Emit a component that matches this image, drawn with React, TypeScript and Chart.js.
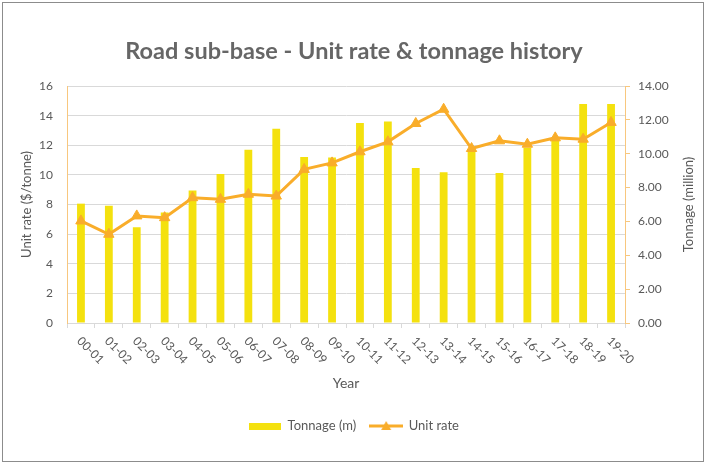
import { useEffect, useRef } from "react";
import { Chart, registerables } from "chart.js";

Chart.register(...registerables);

const years = [
  "00-01", "01-02", "02-03", "03-04", "04-05", "05-06", "06-07", "07-08", "08-09", "09-10",
  "10-11", "11-12", "12-13", "13-14", "14-15", "15-16", "16-17", "17-18", "18-19", "19-20",
];
const tonnage = [
  7.05, 6.93, 5.65, 6.53, 7.83, 8.8, 10.24, 11.48, 9.81, 9.78,
  11.81, 11.91, 9.16, 8.9, 10.24, 8.86, 10.35, 10.85, 12.94, 12.94,
];
const unitRate = [
  6.89, 5.99, 7.23, 7.11, 8.46, 8.35, 8.69, 8.57, 10.37, 10.81,
  11.56, 12.23, 13.47, 14.43, 11.78, 12.3, 12.07, 12.5, 12.41, 13.54,
];

const FONT = "Lato, 'Open Sans', sans-serif";
const TEXT = "#595959";
const YELLOW = "#F4E10E";
const ORANGE = "#F9AD2A";
const AXIS_ORANGE = "#F8C77E";
const GRID = "#D9D9D9";

function makeSwatch(kind: "bar" | "line") {
  const c = document.createElement("canvas");
  if (kind === "bar") {
    c.width = 32;
    c.height = 7;
    const g = c.getContext("2d")!;
    g.fillStyle = YELLOW;
    g.fillRect(0, 0, 32, 7);
  } else {
    c.width = 34;
    c.height = 12;
    const g = c.getContext("2d")!;
    g.strokeStyle = ORANGE;
    g.lineWidth = 3;
    g.beginPath();
    g.moveTo(0, 6);
    g.lineTo(34, 6);
    g.stroke();
    g.fillStyle = ORANGE;
    g.beginPath();
    g.moveTo(17, 1);
    g.lineTo(22, 10);
    g.lineTo(12, 10);
    g.closePath();
    g.fill();
  }
  return c;
}

// rotated (clockwise) x labels and the right axis title
const extraText = {
  id: "extraText",
  afterDraw(chart: any) {
    const { ctx, scales } = chart;
    const x = scales.x;
    ctx.save();
    ctx.fillStyle = TEXT;
    ctx.font = `12px ${FONT}`;
    ctx.textAlign = "left";
    ctx.textBaseline = "middle";
    years.forEach((label, i) => {
      const px = x.getPixelForTick(i);
      ctx.save();
      ctx.translate(px - 2, x.top + 16);
      ctx.rotate(Math.PI / 4);
      ctx.fillText(label, 0, 0);
      ctx.restore();
    });
    const area = chart.chartArea;
    ctx.font = `13px ${FONT}`;
    ctx.textAlign = "center";
    ctx.translate(688.5, (area.top + area.bottom) / 2);
    ctx.rotate(-Math.PI / 2);
    ctx.fillText("Tonnage (million)", 0, 0);
    ctx.restore();
  },
};

export default function App() {
  const chartRef = useRef<HTMLCanvasElement>(null);
  const chartInstance = useRef<Chart | null>(null);

  useEffect(() => {
    if (!chartRef.current) return;
    if (chartInstance.current) chartInstance.current.destroy();
    const ctx = chartRef.current.getContext("2d");
    if (!ctx) return;

    const swatches = [makeSwatch("bar"), makeSwatch("line")];

    chartInstance.current = new Chart(ctx, {
      type: "bar",
      data: {
        labels: years,
        datasets: [
          {
            type: "bar",
            label: "Tonnage (m)",
            data: tonnage,
            yAxisID: "y1",
            backgroundColor: YELLOW,
            barPercentage: 0.28,
            categoryPercentage: 1,
            order: 2,
          },
          {
            type: "line",
            label: "Unit rate",
            data: unitRate,
            yAxisID: "y",
            borderColor: ORANGE,
            backgroundColor: ORANGE,
            borderWidth: 3,
            pointStyle: "triangle",
            pointRadius: 6,
            pointBorderWidth: 1,
            tension: 0,
            order: 1,
          },
        ],
      } as any,
      options: {
        responsive: false,
        animation: false,
        layout: { padding: { left: 3, right: 3, top: 3, bottom: 23.5 } },
        scales: {
          x: {
            offset: true,
            grid: {
              offset: true,
              drawOnChartArea: false,
              drawTicks: true,
              tickLength: 5,
              color: GRID,
            },
            border: { color: GRID },
            ticks: {
              color: "rgba(0,0,0,0)",
              autoSkip: false,
              maxRotation: 45,
              minRotation: 45,
              font: { family: FONT, size: 12 },
            },
            title: {
              display: true,
              text: "Year",
              color: TEXT,
              font: { family: FONT, size: 14 },
              padding: { top: 0, bottom: 14.1 },
            },
            afterFit(scale: any) {
              scale.height = 82.5;
            },
          },
          y: {
            position: "left",
            min: 0,
            max: 16,
            ticks: {
              stepSize: 2,
              color: TEXT,
              padding: 14,
              font: { family: FONT, size: 12 },
            },
            grid: { color: GRID, drawTicks: false },
            border: { color: AXIS_ORANGE },
            title: {
              display: true,
              text: "Unit rate ($/tonne)",
              color: TEXT,
              font: { family: FONT, size: 13 },
              padding: { top: 16.2, bottom: 0 },
            },
            afterFit(scale: any) {
              scale.width = 64;
            },
          },
          y1: {
            position: "right",
            min: 0,
            max: 14,
            ticks: {
              stepSize: 2,
              color: TEXT,
              padding: 8,
              font: { family: FONT, size: 12 },
              callback: (v: any) => Number(v).toFixed(2),
            },
            grid: { drawOnChartArea: false, color: AXIS_ORANGE, tickLength: 5 },
            border: { color: AXIS_ORANGE },
            afterFit(scale: any) {
              scale.width = 80;
            },
          },
        },
        plugins: {
          title: {
            display: true,
            text: "Road sub-base - Unit rate & tonnage history",
            color: "#666666",
            font: { family: FONT, size: 23.5, weight: "bold" },
            padding: { top: 33.9, bottom: 20.9 },
          },
          legend: {
            position: "bottom",
            labels: {
              color: TEXT,
              font: { family: FONT, size: 13 },
              usePointStyle: true,
              pointStyleWidth: 32,
              padding: 14,
              generateLabels: (chart: any) => {
                const items = (Chart.defaults.plugins.legend.labels as any).generateLabels(chart);
                return items
                  .sort((a: any, b: any) => a.datasetIndex - b.datasetIndex)
                  .map((it: any) => ({ ...it, pointStyle: swatches[it.datasetIndex] }));
              },
            },
          },
          tooltip: { enabled: false },
        },
      } as any,
      plugins: [extraText],
    });

    return () => {
      if (chartInstance.current) {
        chartInstance.current.destroy();
        chartInstance.current = null;
      }
    };
  }, []);

  return (
    <div style={{ position: "absolute", left: 0, top: 0, width: 708, height: 466, background: "#fff" }}>
      <canvas ref={chartRef} width={708} height={466} />
      <div
        style={{
          position: "absolute",
          left: 2,
          top: 2,
          width: 702,
          height: 460,
          boxSizing: "border-box",
          border: "1px solid #8c8c8c",
          pointerEvents: "none",
        }}
      />
    </div>
  );
}
